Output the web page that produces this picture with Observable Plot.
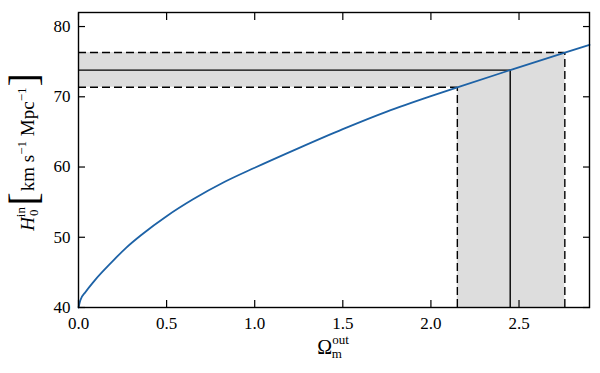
<!DOCTYPE html>
<html>
<head>
<meta charset="utf-8">
<script src="https://cdn.jsdelivr.net/npm/d3@7"></script>
<script src="https://cdn.jsdelivr.net/npm/@observablehq/plot@0.6"></script>
<style>
  html, body { margin: 0; padding: 0; background: #fff; }
  #chart { width: 600px; height: 373px; }
  #chart svg, #chart svg text, #chart svg tspan { font-family: 'Liberation Serif', 'Times New Roman', serif !important; }
</style>
</head>
<body>
<div id="chart"></div>
<script>
// ---- data ----
const omegaOut = [0, 0.01, 0.04, 0.09, 0.19, 0.27, 0.36, 0.5, 0.65, 0.83, 1.0, 1.25, 1.5, 1.75, 2.0, 2.15, 2.45, 2.76, 2.9];
const h0In     = [40, 41.0, 42.2, 43.8, 46.5, 48.5, 50.4, 53.0, 55.4, 57.9, 59.9, 62.7, 65.4, 67.9, 70.1, 71.35, 73.8, 76.3, 77.4];

// measured H0 (lower, central, upper) and the corresponding Omega_m^out values
const h0Band    = [71.35, 73.8, 76.3];
const omegaBand = [2.15, 2.45, 2.76];
const bandStyle = ["dashed", "solid", "dashed"];

const xTicks = [0, 0.5, 1.0, 1.5, 2.0, 2.5];
const yTicks = [40, 50, 60, 70, 80];
const xDomain = [0, 2.9];
const yDomain = [40, 82];

// ---- derived tables ----
const curve = omegaOut.map((x, i) => ({x, y: h0In[i]}));
const hBandRect = [{x1: xDomain[0], x2: omegaBand[2], y1: h0Band[0], y2: h0Band[2]}];
const vBandRect = [{x1: omegaBand[0], x2: omegaBand[2], y1: yDomain[0], y2: h0Band[2]}];
const guides = h0Band.map((h, i) => ({h, o: omegaBand[i], style: bandStyle[i]}));
const dashedGuides = guides.filter(d => d.style === "dashed");
const solidGuides = guides.filter(d => d.style === "solid");

const font = "'Liberation Serif', 'Times New Roman', serif";
const tick = 7;
const noText = () => "";

const svg = Plot.plot({
  width: 600,
  height: 373,
  marginLeft: 78,
  marginRight: 11,
  marginTop: 12,
  marginBottom: 66,
  style: {fontFamily: font, fontSize: "17px", background: "#fff", color: "#000"},
  x: {domain: xDomain},
  y: {domain: yDomain},
  marks: [
    Plot.rect(hBandRect, {x1: "x1", x2: "x2", y1: "y1", y2: "y2", fill: "#dddddd"}),
    Plot.rect(vBandRect, {x1: "x1", x2: "x2", y1: "y1", y2: "y2", fill: "#dddddd"}),
    Plot.ruleY(dashedGuides, {y: "h", x1: xDomain[0], x2: "o", stroke: "#000", strokeWidth: 1.4, strokeDasharray: "8,4"}),
    Plot.ruleX(dashedGuides, {x: "o", y1: yDomain[0], y2: "h", stroke: "#000", strokeWidth: 1.4, strokeDasharray: "8,4"}),
    Plot.ruleY(solidGuides, {y: "h", x1: xDomain[0], x2: "o", stroke: "#000", strokeWidth: 1.4}),
    Plot.ruleX(solidGuides, {x: "o", y1: yDomain[0], y2: "h", stroke: "#000", strokeWidth: 1.4}),
    Plot.line(curve, {x: "x", y: "y", stroke: "#1d62a6", strokeWidth: 1.8, curve: "monotone-x"}),
    // inward ticks on all four sides
    Plot.axisX({anchor: "bottom", ticks: xTicks, tickSize: tick, tickFormat: noText, label: null, dy: -tick, strokeWidth: 1.2}),
    Plot.axisX({anchor: "top", ticks: xTicks, tickSize: tick, tickFormat: noText, label: null, dy: tick, strokeWidth: 1.2}),
    Plot.axisY({anchor: "left", ticks: yTicks, tickSize: tick, tickFormat: noText, label: null, dx: tick, strokeWidth: 1.2}),
    Plot.axisY({anchor: "right", ticks: yTicks, tickSize: tick, tickFormat: noText, label: null, dx: -tick, strokeWidth: 1.2}),
    // tick labels
    Plot.axisX({anchor: "bottom", ticks: xTicks, tickSize: 0, tickPadding: 9, tickFormat: d => d.toFixed(1), label: null, fontSize: 17, fontFamily: font}),
    Plot.axisY({anchor: "left", ticks: yTicks, tickSize: 0, tickPadding: 8, tickFormat: d => String(d), label: null, fontSize: 17, fontFamily: font}),
    Plot.frame({stroke: "#000", strokeWidth: 1.4})
  ]
});

const s = d3.select(svg);

// x-axis label: Omega_m^out
const xl = s.append("text")
  .attr("x", 333).attr("y", 354)
  .attr("text-anchor", "middle")
  .attr("fill", "#000");
xl.append("tspan").attr("font-size", 20).text("Ω");
xl.append("tspan").attr("font-size", 13).attr("dy", -10).text("out");
xl.append("tspan").attr("font-size", 13).attr("dx", -17).attr("dy", 14).text("m");

// y-axis label: H_0^in [km s^-1 Mpc^-1]
const yl = s.append("text")
  .attr("transform", "translate(34,152) rotate(-90)")
  .attr("text-anchor", "middle")
  .attr("fill", "#000");
yl.append("tspan").attr("font-size", 19).attr("font-style", "italic").text("H");
yl.append("tspan").attr("font-size", 13).attr("dy", -9).text("in");
yl.append("tspan").attr("font-size", 13).attr("dx", -9).attr("dy", 13).text("0");
yl.append("tspan").attr("font-size", 40).attr("dx", 4).attr("dy", -1).text("[");
yl.append("tspan").attr("font-size", 19).attr("dx", 1).attr("dy", -3).text("km s");
yl.append("tspan").attr("font-size", 13).attr("dy", -8).text("−1");
yl.append("tspan").attr("font-size", 19).attr("dy", 8).text(" Mpc");
yl.append("tspan").attr("font-size", 13).attr("dy", -8).text("−1");
yl.append("tspan").attr("font-size", 40).attr("dx", 1).attr("dy", 11).text("]");

s.selectAll("text").style("font-family", font);
document.getElementById("chart").appendChild(svg);
</script>
</body>
</html>
